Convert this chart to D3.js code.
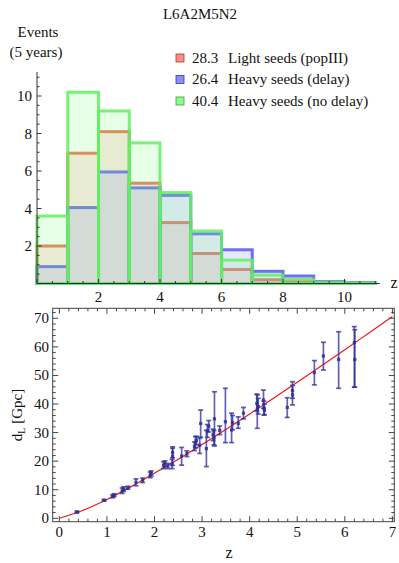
<!DOCTYPE html>
<meta charset="utf-8">
<html>
<head>
    <meta charset="utf-8">
    <title>L6A2M5N2</title>
    <style>
        body { margin: 0; background: #fff; }
        text { font-family: "Liberation Serif", "DejaVu Serif", serif; fill: #111; }
    </style>
</head>
<body>
    <script src="https://d3js.org/d3.v7.min.js"></script>
    <script>
        // ---- histogram data (events per unit z, 5 years) ----
        const binEdges = [0, 1, 2, 3, 4, 5, 6, 7, 8, 9, 10, 11];
        const lightSeeds = [2.0, 6.95, 8.1, 5.35, 3.25, 1.6, 0.75, 0.2, 0.1, 0.02, 0.0];
        const heavyDelay = [0.9, 4.05, 5.95, 5.1, 4.7, 2.65, 1.8, 0.65, 0.4, 0.1, 0.05];
        const heavyNoDelay = [3.6, 10.2, 9.2, 7.5, 4.85, 2.8, 1.25, 0.45, 0.22, 0.06, 0.03];
        const seriesNames = ["Light seeds (popIII)", "Heavy seeds (delay)", "Heavy seeds (no delay)"];
        const seriesTotals = ["28.3", "26.4", "40.4"];
        const histTicksX = [2, 4, 6, 8, 10];
        const histTicksY = [2, 4, 6, 8, 10];

        // ---- d_L(z) data ----
        const pointZ = [0.37, 0.94, 1.12, 1.15, 1.32, 1.35, 1.44, 1.61, 1.75, 1.91, 1.93, 2.19, 2.22, 2.28,
            2.37, 2.38, 2.38, 2.57, 2.68, 2.84, 2.86, 2.88, 2.95, 2.97, 3.09, 3.11, 3.14, 3.23, 3.25, 3.26,
            3.37, 3.49, 3.62, 3.64, 3.76, 3.87, 4.15, 4.16, 4.18, 4.29, 4.30, 4.31, 4.79, 4.90, 4.90,
            5.36, 5.55, 5.87, 6.20, 6.21];
        const pointDL = [2.2, 6.3, 7.7, 8.1, 9.6, 10.2, 10.7, 12.6, 13.3, 15.2, 15.7, 18.6, 19.1, 18.3,
            19.0, 21.6, 23.0, 21.8, 22.6, 25.2, 26.6, 27.2, 25.6, 33.2, 24.4, 30.6, 32.2, 29.2, 28.2, 34.8,
            30.8, 33.8, 30.9, 33.5, 33.2, 36.8, 40.2, 38.0, 39.1, 41.4, 38.5, 37.8, 38.8, 44.7, 43.2,
            51.0, 56.8, 55.6, 61.5, 55.6];
        const errLow = [1.9, 6.0, 7.2, 7.6, 8.7, 9.4, 10.2, 11.4, 12.5, 14.2, 14.8, 17.4, 18.1, 17.4,
            17.4, 18.5, 21.2, 18.6, 21.6, 23.7, 24.6, 25.7, 22.7, 28.4, 18.1, 28.3, 30.2, 27.2, 25.7, 25.3,
            29.3, 26.5, 26.5, 31.0, 31.5, 34.8, 37.5, 31.5, 36.5, 38.5, 36.1, 36.3, 35.3, 42.0, 39.7,
            46.7, 51.9, 45.5, 45.9, 45.9];
        const errHigh = [2.5, 6.6, 8.2, 8.6, 10.6, 11.0, 11.2, 13.8, 14.1, 16.2, 16.6, 19.8, 20.1, 19.2,
            20.6, 25.0, 24.5, 24.8, 23.6, 26.7, 28.6, 28.7, 28.0, 37.9, 30.8, 32.8, 34.2, 31.2, 30.7, 44.3,
            32.3, 45.5, 36.8, 36.0, 35.5, 38.8, 43.5, 43.2, 42.0, 44.9, 41.0, 40.0, 42.2, 47.8, 46.5,
            55.2, 61.6, 65.3, 67.1, 66.0];

        // model curve
        const curveZ = [0, 0.5, 1, 1.5, 2, 2.5, 3, 3.5, 4, 4.5, 5, 5.5, 6, 6.5, 7];
        const curveDL = [0, 2.83, 6.6, 11.0, 15.8, 20.7, 25.8, 31.1, 36.5, 42.0, 47.6, 53.3, 59.0, 64.8, 70.6];

        const dlTicksX = [0, 1, 2, 3, 4, 5, 6, 7];
        const dlTicksY = [0, 10, 20, 30, 40, 50, 60, 70];

        const width = 399, height = 563;
        const svg = d3.select("body").append("svg")
            .attr("width", width)
            .attr("height", height);

        renderHistogram(svg);
        renderDistance(svg);

        function renderHistogram(root) {
            const fills = ["#ff8080", "#8080ff", "#80ff80"];
            const strokes = ["#e8603c", "#5858f0", "#60f060"];
            const series = [lightSeeds, heavyDelay, heavyNoDelay];

            const x = d3.scaleLinear().domain([0, 11.15]).range([37, 379.9]);
            const y = d3.scaleLinear().domain([0, 11.28]).range([283.5, 72]);

            const groupBars = root.append("g").attr("class", "groupBars");
            series.forEach((vals, i) => {
                groupBars.append("g")
                    .selectAll("rect")
                    .data(vals.map((v, k) => ({x0: binEdges[k], x1: binEdges[k + 1], v})).filter(d => d.v > 0))
                    .join("rect")
                    .attr("x", d => x(d.x0))
                    .attr("y", d => y(d.v))
                    .attr("width", d => x(d.x1) - x(d.x0))
                    .attr("height", d => y(0) - y(d.v))
                    .attr("fill", fills[i])
                    .attr("fill-opacity", 0.2)
                    .attr("stroke", strokes[i])
                    .attr("stroke-opacity", 0.85)
                    .attr("stroke-width", 3);
            });

            // axes
            const groupAxes = root.append("g").attr("class", "groupAxes")
                .attr("stroke", "#333").attr("stroke-width", 1);
            groupAxes.append("line")
                .attr("x1", x(0)).attr("x2", x.range()[1])
                .attr("y1", y(0)).attr("y2", y(0));
            groupAxes.append("line")
                .attr("x1", x(0)).attr("x2", x(0))
                .attr("y1", y(0)).attr("y2", y.range()[1]);

            const minorX = d3.range(0, 11.01, 0.5);
            groupAxes.selectAll(".tx")
                .data(minorX)
                .join("line")
                .attr("x1", d => x(d)).attr("x2", d => x(d))
                .attr("y1", y(0)).attr("y2", d => y(0) - (d % 2 === 0 ? 4.5 : 2.5));
            const minorY = d3.range(0, 11.01, 0.5);
            groupAxes.selectAll(".ty")
                .data(minorY)
                .join("line")
                .attr("y1", d => y(d)).attr("y2", d => y(d))
                .attr("x1", x(0)).attr("x2", d => x(0) + (d % 2 === 0 ? 4.5 : 2.5));

            root.append("g").selectAll("text")
                .data(histTicksX)
                .join("text")
                .attr("x", d => x(d))
                .attr("y", 302)
                .attr("text-anchor", "middle")
                .attr("font-size", 15)
                .text(d => d);
            root.append("g").selectAll("text")
                .data(histTicksY)
                .join("text")
                .attr("x", 32)
                .attr("y", d => y(d) + 5)
                .attr("text-anchor", "end")
                .attr("font-size", 15)
                .text(d => d);

            root.append("text").attr("x", 394).attr("y", 288)
                .attr("text-anchor", "middle").attr("font-size", 16).text("z");
            root.append("text").attr("x", 200).attr("y", 19)
                .attr("text-anchor", "middle").attr("font-size", 15).text("L6A2M5N2");
            root.append("text").attr("x", 38).attr("y", 37)
                .attr("text-anchor", "middle").attr("font-size", 15).text("Events");
            root.append("text").attr("x", 36).attr("y", 57)
                .attr("text-anchor", "middle").attr("font-size", 15).text("(5 years)");

            // legend
            const groupLegend = root.append("g").attr("class", "groupLegend");
            const rows = groupLegend.selectAll("g")
                .data(seriesNames)
                .join("g")
                .attr("transform", (d, i) => `translate(176, ${54 + i * 21.5})`);
            rows.append("rect")
                .attr("width", 8).attr("height", 8)
                .attr("fill", (d, i) => d3.interpolateRgb(fills[i], "#fff")(0.1))
                .attr("stroke", (d, i) => d3.color(strokes[i]).darker(1.2))
                .attr("stroke-width", 0.8);
            rows.append("text")
                .attr("x", 16).attr("y", 8.5)
                .attr("font-size", 15)
                .text((d, i) => seriesTotals[i]);
            rows.append("text")
                .attr("x", 52).attr("y", 8.5)
                .attr("font-size", 15)
                .text(d => d);
        }

        function renderDistance(root) {
            const left = 52.7, right = 394.3, top = 308.3, bottom = 521.7;
            const x = d3.scaleLinear().domain([-0.14, 7.04]).range([left, right]);
            const y = d3.scaleLinear().domain([-1.19, 73.5]).range([bottom, top]);

            const points = pointZ.map((z, i) => ({z, d: pointDL[i], lo: errLow[i], hi: errHigh[i]}));

            // frame with ticks on all sides
            const groupFrame = root.append("g").attr("class", "groupFrame")
                .attr("stroke", "#444").attr("stroke-width", 1);
            groupFrame.append("rect")
                .attr("x", left).attr("y", top)
                .attr("width", right - left).attr("height", bottom - top)
                .attr("fill", "none");
            const tx = d3.range(0, 7.001, 0.2).map(v => Math.round(v * 10) / 10);
            const ty = d3.range(0, 72.1, 2);
            for (const [yy, dir] of [[bottom, -1], [top, 1]]) {
                groupFrame.append("g").selectAll("line")
                    .data(tx)
                    .join("line")
                    .attr("x1", d => x(d)).attr("x2", d => x(d))
                    .attr("y1", yy)
                    .attr("y2", d => yy + dir * (Number.isInteger(d) ? 5.5 : 3));
            }
            for (const [xx, dir] of [[left, 1], [right, -1]]) {
                groupFrame.append("g").selectAll("line")
                    .data(ty)
                    .join("line")
                    .attr("y1", d => y(d)).attr("y2", d => y(d))
                    .attr("x1", xx)
                    .attr("x2", d => xx + dir * (d % 10 === 0 ? 5.5 : 3));
            }

            root.append("g").selectAll("text")
                .data(dlTicksX)
                .join("text")
                .attr("x", d => x(d))
                .attr("y", 537)
                .attr("text-anchor", "middle")
                .attr("font-size", 15)
                .text(d => d);
            root.append("g").selectAll("text")
                .data(dlTicksY)
                .join("text")
                .attr("x", 49)
                .attr("y", d => y(d) + 5)
                .attr("text-anchor", "end")
                .attr("font-size", 15)
                .text(d => d);

            root.append("text").attr("x", 229).attr("y", 558)
                .attr("text-anchor", "middle").attr("font-size", 16).text("z");
            const yl = root.append("text")
                .attr("transform", "translate(22, 415) rotate(-90)")
                .attr("text-anchor", "middle")
                .attr("font-size", 15);
            yl.append("tspan").text("d");
            yl.append("tspan").attr("font-size", 10).attr("dy", 3).text("L");
            yl.append("tspan").attr("dy", -3).text("  [Gpc]");

            // model curve
            const line = d3.line()
                .x((d, i) => x(curveZ[i]))
                .y(d => y(d))
                .curve(d3.curveMonotoneX);
            root.append("path")
                .attr("d", line(curveDL))
                .attr("fill", "none")
                .attr("stroke", "#f01818")
                .attr("stroke-width", 1.2);

            // error bars
            const groupErr = root.append("g").attr("class", "groupErr")
                .attr("stroke", "#2e2e96")
                .attr("stroke-opacity", 0.75)
                .attr("stroke-width", 1.7);
            const bars = groupErr.selectAll("g")
                .data(points)
                .join("g");
            bars.append("line")
                .attr("x1", d => x(d.z)).attr("x2", d => x(d.z))
                .attr("y1", d => y(d.lo)).attr("y2", d => y(d.hi));
            bars.append("line")
                .attr("x1", d => x(d.z) - 2.5).attr("x2", d => x(d.z) + 2.5)
                .attr("y1", d => y(d.lo)).attr("y2", d => y(d.lo));
            bars.append("line")
                .attr("x1", d => x(d.z) - 2.5).attr("x2", d => x(d.z) + 2.5)
                .attr("y1", d => y(d.hi)).attr("y2", d => y(d.hi));

            root.append("g").selectAll("rect")
                .data(points)
                .join("rect")
                .attr("x", d => x(d.z) - 1.6)
                .attr("y", d => y(d.d) - 1.6)
                .attr("width", 3.2).attr("height", 3.2)
                .attr("fill", "#2e2e96")
                .attr("fill-opacity", 0.85);
        }
    </script>
</body>
</html>
